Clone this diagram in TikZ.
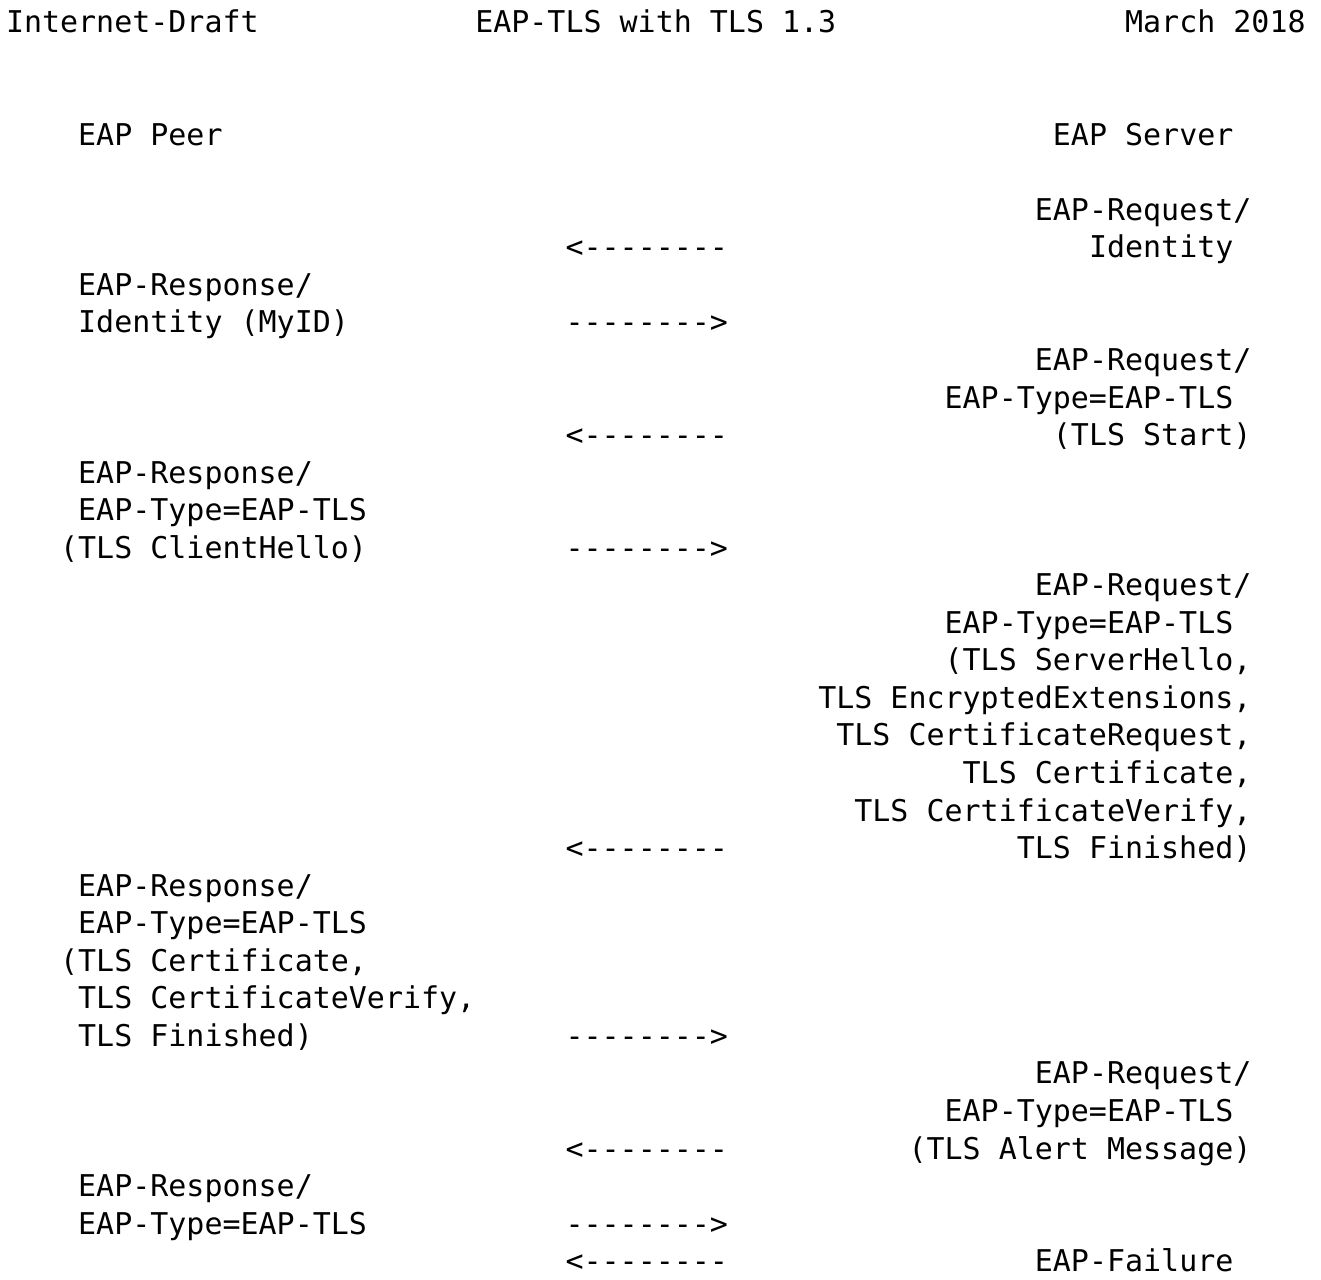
\documentclass[tikz,border=0pt]{standalone}
\usepackage{fontspec}
\setmonofont{DejaVu Sans Mono}
\usepackage{tikz}

\begin{document}
\begin{tikzpicture}[x=9.025pt,y=-18.775pt,
      txt/.style={font=\ttfamily\fontsize{14.99pt}{18pt}\selectfont,
                  inner sep=0pt,outer sep=0pt,anchor=base west,text=black},
      arr/.style={txt}]
  \useasboundingbox (0pt,0pt) rectangle (660.5pt,-639.5pt);
  \begin{scope}[shift={(3pt,-16.25pt)}]
    % header line
    \node[txt] (hdrL) at (0,0) {Internet-Draft};
    \node[txt] (hdrC) at (26,0) {EAP-TLS with TLS 1.3};
    \node[txt] (hdrR) at (62,0) {March 2018};
    % parties
    \node[txt] (peer) at (4,3) {EAP Peer};
    \node[txt] (server) at (58,3) {EAP Server};
    % identity exchange
    \node[txt] (req1a) at (57,5) {EAP-Request/};
    \node[arr] (a1) at (31,6) {<--------};
    \node[txt] (req1b) at (60,6) {Identity};
    \node[txt] (rsp1a) at (4,7) {EAP-Response/};
    \node[txt] (rsp1b) at (4,8) {Identity (MyID)};
    \node[arr] (a2) at (31,8) {-------->};
    % TLS start
    \node[txt] (req2a) at (57,9) {EAP-Request/};
    \node[txt] (req2b) at (52,10) {EAP-Type=EAP-TLS};
    \node[arr] (a3) at (31,11) {<--------};
    \node[txt] (req2c) at (58,11) {(TLS Start)};
    \node[txt] (rsp2a) at (4,12) {EAP-Response/};
    \node[txt] (rsp2b) at (4,13) {EAP-Type=EAP-TLS};
    \node[txt] (rsp2c) at (3,14) {(TLS ClientHello)};
    \node[arr] (a4) at (31,14) {-------->};
    % server flight
    \node[txt] (req3a) at (57,15) {EAP-Request/};
    \node[txt] (req3b) at (52,16) {EAP-Type=EAP-TLS};
    \node[txt] (req3c) at (52,17) {(TLS ServerHello,};
    \node[txt] (req3d) at (45,18) {TLS EncryptedExtensions,};
    \node[txt] (req3e) at (46,19) {TLS CertificateRequest,};
    \node[txt] (req3f) at (53,20) {TLS Certificate,};
    \node[txt] (req3g) at (47,21) {TLS CertificateVerify,};
    \node[arr] (a5) at (31,22) {<--------};
    \node[txt] (req3h) at (56,22) {TLS Finished)};
    % client flight
    \node[txt] (rsp3a) at (4,23) {EAP-Response/};
    \node[txt] (rsp3b) at (4,24) {EAP-Type=EAP-TLS};
    \node[txt] (rsp3c) at (3,25) {(TLS Certificate,};
    \node[txt] (rsp3d) at (4,26) {TLS CertificateVerify,};
    \node[txt] (rsp3e) at (4,27) {TLS Finished)};
    \node[arr] (a6) at (31,27) {-------->};
    % alert and failure
    \node[txt] (req4a) at (57,28) {EAP-Request/};
    \node[txt] (req4b) at (52,29) {EAP-Type=EAP-TLS};
    \node[arr] (a7) at (31,30) {<--------};
    \node[txt] (req4c) at (50,30) {(TLS Alert Message)};
    \node[txt] (rsp4a) at (4,31) {EAP-Response/};
    \node[txt] (rsp4b) at (4,32) {EAP-Type=EAP-TLS};
    \node[arr] (a8) at (31,32) {-------->};
    \node[arr] (a9) at (31,33) {<--------};
    \node[txt] (fail) at (57,33) {EAP-Failure};
  \end{scope}
\end{tikzpicture}
\end{document}
